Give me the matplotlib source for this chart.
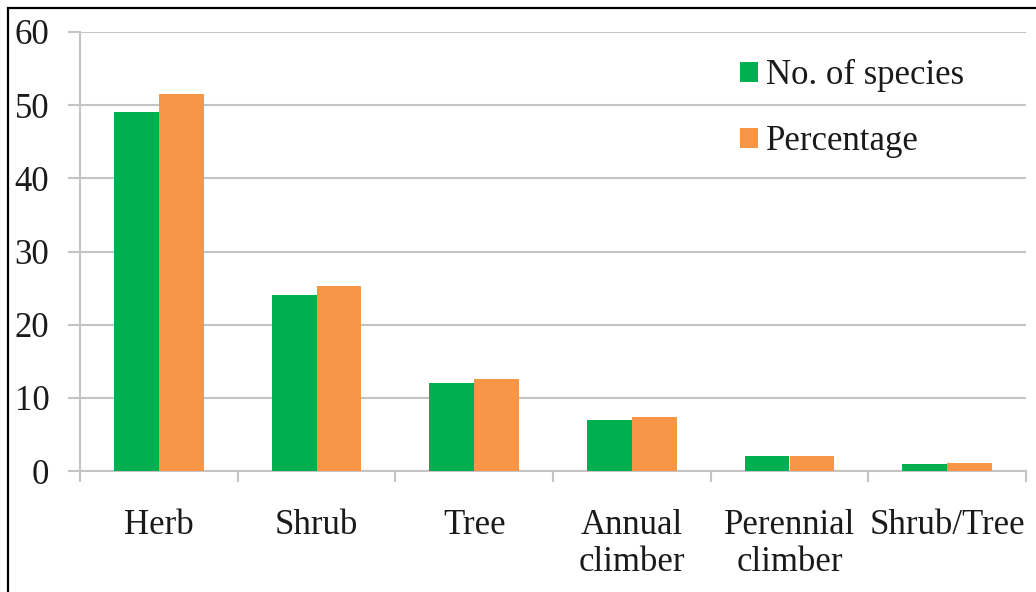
import matplotlib
matplotlib.use("Agg")
import matplotlib.pyplot as plt
import numpy as np
from matplotlib.patches import Patch, Rectangle

categories = ["Herb", "Shrub", "Tree", "Annual\nclimber", "Perennial\nclimber", "Shrub/Tree"]
species_counts = [49, 24, 12, 7, 2, 1]
percentages = [51.58, 25.26, 12.63, 7.37, 2.11, 1.05]
series_names = ["No. of species", "Percentage"]
y_ticks = [0, 10, 20, 30, 40, 50, 60]

green = "#00B050"
orange = "#F79646"
grid_gray = "#c4c4c4"
text_color = "#1a1a1a"

plt.rcParams["font.family"] = "serif"
plt.rcParams["font.serif"] = ["Liberation Serif", "DejaVu Serif"]

fig = plt.figure(figsize=(10.36, 5.92), dpi=100)
ax = fig.add_axes([80 / 1036, 1 - 471 / 592, (1026 - 80) / 1036, (471 - 32) / 592])

x = np.arange(len(categories))
w = 0.285
ax.bar(x - w / 2, species_counts, width=w, color=green, zorder=3)
ax.bar(x + w / 2, percentages, width=w, color=orange, zorder=3)

ax.set_xlim(-0.5, len(categories) - 0.5)
ax.set_ylim(0, 60)
ax.set_yticks(y_ticks)
ax.set_yticklabels([str(v) for v in y_ticks])
ax.yaxis.grid(True, color=grid_gray, linewidth=1.5, zorder=0)
ax.set_axisbelow(True)

# category labels centred between the group boundary ticks
ax.set_xticks(np.arange(-0.5, len(categories), 1.0))
ax.set_xticklabels([])
ax.set_xticks(x, minor=True)
ax.set_xticklabels(categories, minor=True, fontsize=25, color=text_color, linespacing=1.17)
ax.tick_params(axis="x", which="minor", length=0, pad=27)
ax.tick_params(axis="x", which="major", length=8, width=1.5, color=grid_gray, direction="out")
ax.tick_params(axis="y", length=9, width=1.5, color=grid_gray, direction="out", pad=13,
               labelsize=25, labelcolor=text_color)

for side in ("top", "right"):
    ax.spines[side].set_visible(False)
for side in ("left", "bottom"):
    ax.spines[side].set_color(grid_gray)
    ax.spines[side].set_linewidth(1.5)

handles = [Patch(facecolor=green, edgecolor="none"), Patch(facecolor=orange, edgecolor="none")]
ax.legend(handles, series_names, loc="upper left", bbox_to_anchor=(0.665, 1.01),
          frameon=False, fontsize=25, handlelength=0.5, handleheight=0.5,
          handletextpad=0.25, labelspacing=0.95, labelcolor=text_color)

# outer border
fig.patches.append(Rectangle((8 / 1036, -0.1), 1.2, (1 - 8 / 592) + 0.1,
                             transform=fig.transFigure, fill=False,
                             edgecolor="black", linewidth=1.6))

fig.savefig("out.png", dpi=100)
